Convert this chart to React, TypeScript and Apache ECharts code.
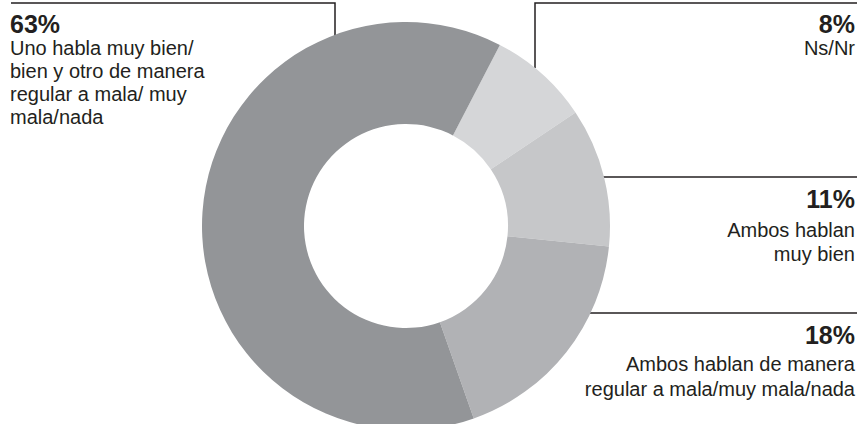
import React, { useEffect, useRef } from "react";
import * as echarts from "echarts";

const categories = [
  "Ns/Nr",
  "Ambos hablan\nmuy bien",
  "Ambos hablan de manera\nregular a mala/muy mala/nada",
  "Uno habla muy bien/\nbien y otro de manera\nregular a mala/ muy\nmala/nada",
];
const values = [8, 11, 18, 63];
const colors = ["#d5d6d8", "#c6c7c9", "#b1b2b5", "#939598"];

const INK = "#231f20";
const FONT = "'Liberation Sans', Arial, sans-serif";

export default function App() {
  const ref = useRef<HTMLDivElement>(null);
  useEffect(() => {
    if (!ref.current) return;
    const chart = echarts.init(ref.current, undefined, { renderer: "svg" });

    // [index, x, digit baseline, first body baseline, body line spacing, align]
    const blocks: [number, number, number, number, number, "left" | "right"][] = [
      [3, 10, 33, 54.5, 23.2, "left"],
      [0, 855, 33, 54.5, 23.2, "right"],
      [1, 855, 208, 237, 23.5, "right"],
      [2, 855, 344, 371, 24.5, "right"],
    ];
    const texts: any[] = [];
    blocks.forEach(([i, x, b0, b1, lh, align]) => {
      texts.push({
        type: "text",
        style: {
          text: `${values[i]}%`,
          x,
          y: b0 - 8.7,
          align,
          verticalAlign: "middle",
          font: `bold 25px ${FONT}`,
          fill: INK,
        },
      });
      categories[i].split("\n").forEach((ln, k) => {
        texts.push({
          type: "text",
          style: {
            text: ln,
            x,
            y: b1 + k * lh - 6.9,
            align,
            verticalAlign: "middle",
            font: `20px ${FONT}`,
            fill: INK,
          },
        });
      });
    });

    const lineStyle = { stroke: INK, lineWidth: 1.5, fill: "none" };
    const lines: any[] = [
      { type: "polyline", shape: { points: [[11, 3], [335, 3], [335, 36]] }, style: lineStyle },
      { type: "polyline", shape: { points: [[535, 68], [535, 3], [857, 3]] }, style: lineStyle },
      { type: "line", shape: { x1: 602, y1: 177, x2: 857, y2: 177 }, style: lineStyle },
      { type: "line", shape: { x1: 588, y1: 313, x2: 857, y2: 313 }, style: lineStyle },
    ];

    chart.setOption({
      animation: false,
      backgroundColor: "#ffffff",
      series: [
        {
          type: "pie",
          center: [406, 226],
          radius: [102, 204],
          startAngle: 62.6,
          clockwise: true,
          silent: true,
          label: { show: false },
          labelLine: { show: false },
          itemStyle: { borderWidth: 0 },
          data: values.map((v, i) => ({
            value: v,
            name: categories[i],
            itemStyle: { color: colors[i] },
          })),
        },
      ],
      graphic: [...lines, ...texts],
    });
    return () => chart.dispose();
  }, []);
  return (
    <div
      ref={ref}
      style={{ position: "absolute", left: 0, top: 0, width: 861, height: 424 }}
    />
  );
}
